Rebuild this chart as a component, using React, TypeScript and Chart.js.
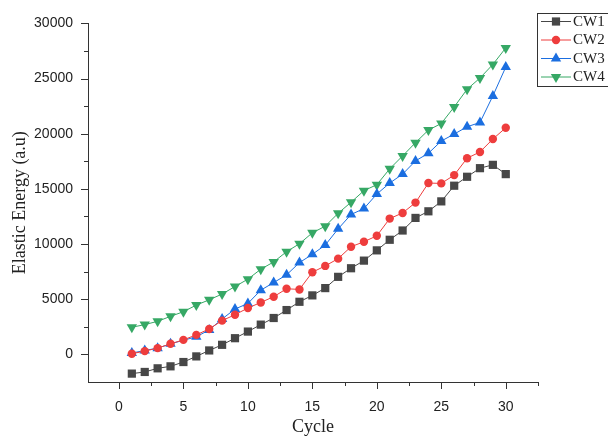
import React, { useEffect, useRef } from 'react';
import { Chart, registerables } from 'chart.js';

Chart.register(...registerables);

const cycles = [1, 2, 3, 4, 5, 6, 7, 8, 9, 10, 11, 12, 13, 14, 15, 16, 17, 18, 19, 20, 21, 22, 23, 24, 25, 26, 27, 28, 29, 30];
const cw1 = [-1740, -1590, -1260, -1080, -690, -180, 360, 870, 1470, 2070, 2700, 3300, 4020, 4770, 5350, 6010, 7030, 7810, 8500, 9430, 10390, 11230, 12370, 12970, 13870, 15290, 16100, 16880, 17180, 16340];
const cw2 = [60, 300, 570, 960, 1320, 1770, 2310, 3060, 3600, 4200, 4710, 5230, 5950, 5890, 7450, 8020, 8680, 9760, 10210, 10750, 12310, 12820, 13760, 15530, 15500, 16250, 17780, 18350, 19520, 20540];
const cw3 = [120, 360, 570, 960, null, 1600, 2220, 3210, 4110, 4620, 5820, 6510, 7210, 8320, 9070, 9910, 11380, 12680, 13220, 14530, 15530, 16340, 17540, 18230, 19340, 19970, 20630, 21020, 23430, 26040];
const cw4 = [2460, 2700, 3000, 3450, 3870, 4470, 4950, 5470, 6150, 6820, 7720, 8380, 9310, 10030, 11020, 11620, 12790, 13790, 14840, 15380, 16820, 17990, 19190, 20330, 20930, 22430, 24030, 25050, 26280, 27780];

const seriesNames = ['CW1', 'CW2', 'CW3', 'CW4'];
const seriesColors = ['#474747', '#ee3d3d', '#1b6ee0', '#36a865'];

const xMajor = [0, 5, 10, 15, 20, 25, 30];
const xMinor = [2.5, 7.5, 12.5, 17.5, 22.5, 27.5, 32.5];
const yMajor = [0, 5000, 10000, 15000, 20000, 25000, 30000];
const yMinor = [2500, 7500, 12500, 17500, 22500, 27500];

const toPoints = (arr: (number | null)[]) => arr.map((v, i) => ({ x: cycles[i], y: v }));

function drawMarker(ctx: CanvasRenderingContext2D, style: string, x: number, y: number, r: number, rot: number) {
  ctx.beginPath();
  if (style === 'rect') {
    const s = Math.SQRT1_2 * r;
    ctx.rect(x - s, y - s, 2 * s, 2 * s);
  } else if (style === 'circle') {
    ctx.arc(x, y, r, 0, Math.PI * 2);
  } else {
    let rad = (rot * Math.PI) / 180;
    ctx.moveTo(x + Math.sin(rad) * r, y - Math.cos(rad) * r);
    rad += (2 * Math.PI) / 3;
    ctx.lineTo(x + Math.sin(rad) * r, y - Math.cos(rad) * r);
    rad += (2 * Math.PI) / 3;
    ctx.lineTo(x + Math.sin(rad) * r, y - Math.cos(rad) * r);
    ctx.closePath();
  }
  ctx.fill();
}

const tickPlugin = {
  id: 'originTicks',
  afterDraw(chart: any) {
    const { ctx, chartArea } = chart;
    const xs = chart.scales.x;
    const ys = chart.scales.y;
    ctx.save();
    ctx.strokeStyle = '#333';
    ctx.lineWidth = 1;
    ctx.beginPath();
    xMajor.forEach((v) => {
      const p = Math.round(xs.getPixelForValue(v)) + 0.5;
      ctx.moveTo(p, chartArea.bottom);
      ctx.lineTo(p, chartArea.bottom + 7);
    });
    xMinor.forEach((v) => {
      const p = Math.round(xs.getPixelForValue(v)) + 0.5;
      ctx.moveTo(p, chartArea.bottom);
      ctx.lineTo(p, chartArea.bottom + 4);
    });
    yMajor.forEach((v) => {
      const p = Math.round(ys.getPixelForValue(v)) + 0.5;
      ctx.moveTo(chartArea.left, p);
      ctx.lineTo(chartArea.left - 7, p);
    });
    yMinor.forEach((v) => {
      const p = Math.round(ys.getPixelForValue(v)) + 0.5;
      ctx.moveTo(chartArea.left, p);
      ctx.lineTo(chartArea.left - 4, p);
    });
    ctx.stroke();
    ctx.restore();
  },
};

const legendPlugin = {
  id: 'originLegend',
  afterDraw(chart: any) {
    const { ctx } = chart;
    ctx.save();
    ctx.strokeStyle = '#333';
    ctx.lineWidth = 1;
    ctx.strokeRect(537.5, 13.5, 90, 73);
    const rows = [21, 39.5, 58, 76.5];
    chart.data.datasets.forEach((ds: any, i: number) => {
      const y = rows[i];
      ctx.strokeStyle = ds.borderColor;
      ctx.lineWidth = 1;
      ctx.beginPath();
      ctx.moveTo(541, y + 0.5);
      ctx.lineTo(571, y + 0.5);
      ctx.stroke();
      ctx.fillStyle = ds.pointBackgroundColor;
      drawMarker(ctx, ds.pointStyle, 556, y + 0.5, ds.pointRadius, ds.pointRotation || 0);
      ctx.fillStyle = '#222';
      ctx.font = '15px "Liberation Serif", "Times New Roman", serif';
      ctx.textAlign = 'left';
      ctx.textBaseline = 'middle';
      ctx.fillText(ds.label, 573, y + 1);
    });
    ctx.restore();
  },
};

export default function App() {
  const canvasRef = useRef<HTMLCanvasElement | null>(null);

  useEffect(() => {
    if (!canvasRef.current) return;
    const styles = [
      { pointStyle: 'rect', pointRadius: 5.8, pointRotation: 0 },
      { pointStyle: 'circle', pointRadius: 4.2, pointRotation: 0 },
      { pointStyle: 'triangle', pointRadius: 6, pointRotation: 0 },
      { pointStyle: 'triangle', pointRadius: 6, pointRotation: 180 },
    ];
    const allData = [cw1, cw2, cw3, cw4];
    const chart = new Chart(canvasRef.current, {
      type: 'line',
      data: {
        datasets: allData.map((d, i) => ({
          label: seriesNames[i],
          data: toPoints(d),
          borderColor: seriesColors[i],
          backgroundColor: seriesColors[i],
          pointBackgroundColor: seriesColors[i],
          pointBorderColor: seriesColors[i],
          pointBorderWidth: 0,
          borderWidth: 1,
          pointStyle: styles[i].pointStyle as any,
          pointRadius: styles[i].pointRadius,
          pointRotation: styles[i].pointRotation,
          spanGaps: true,
          tension: 0,
          clip: false as any,
        })),
      },
      options: {
        animation: false,
        responsive: false,
        devicePixelRatio: 1,
        layout: { padding: { top: 21, right: 70, left: 0, bottom: 0 } },
        plugins: {
          legend: { display: false },
          tooltip: { enabled: false },
        },
        scales: {
          x: {
            type: 'linear',
            min: -2.4,
            max: 32.5,
            afterBuildTicks: (s: any) => {
              s.ticks = xMajor.map((value) => ({ value }));
            },
            afterFit: (s: any) => {
              s.height = 54;
            },
            grid: { display: false, drawTicks: false },
            border: { display: true, color: '#333', width: 1 },
            ticks: {
              padding: 17,
              color: '#222',
              autoSkip: false,
              maxRotation: 0,
              callback: (v: any) => String(v),
              font: { family: '"Liberation Sans", Arial, sans-serif', size: 14 },
            },
            title: {
              display: true,
              text: 'Cycle',
              color: '#222',
              font: { family: '"Liberation Serif", "Times New Roman", serif', size: 18, lineHeight: 1 },
              padding: { top: 0, bottom: 0 },
            },
          },
          y: {
            type: 'linear',
            min: -2500,
            max: 30000,
            afterBuildTicks: (s: any) => {
              s.ticks = yMajor.map((value) => ({ value }));
            },
            afterFit: (s: any) => {
              s.width = 88;
            },
            grid: { display: false, drawTicks: false },
            border: { display: true, color: '#333', width: 1 },
            ticks: {
              padding: 15,
              color: '#222',
              autoSkip: false,
              callback: (v: any) => String(v),
              font: { family: '"Liberation Sans", Arial, sans-serif', size: 14 },
            },
            title: {
              display: true,
              text: 'Elastic Energy (a.u)',
              color: '#222',
              font: { family: '"Liberation Serif", "Times New Roman", serif', size: 18, lineHeight: 1 },
              padding: { top: 11, bottom: 0 },
            },
          },
        },
      },
      plugins: [tickPlugin, legendPlugin],
    });
    return () => chart.destroy();
  }, []);

  return (
    <div style={{ position: 'absolute', left: 0, top: 0, width: 608, height: 436, background: '#fff' }}>
      <canvas ref={canvasRef} width={608} height={436} style={{ display: 'block', width: 608, height: 436 }} />
    </div>
  );
}
